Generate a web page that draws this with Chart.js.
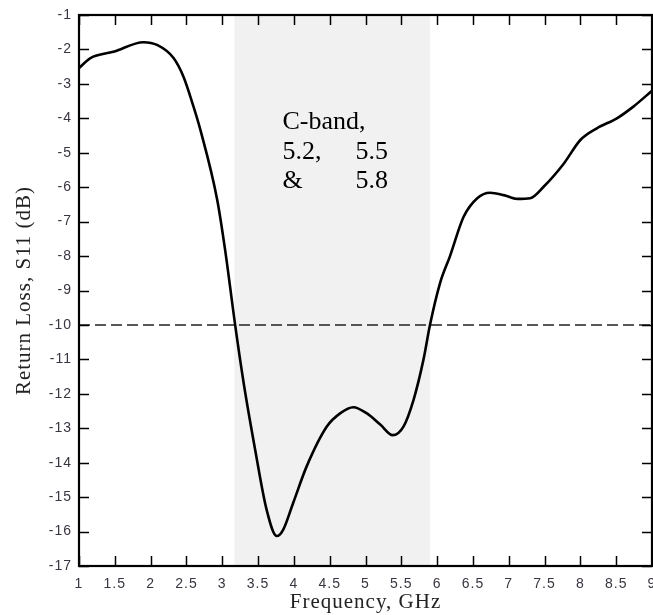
<!DOCTYPE html>
<html><head><meta charset="utf-8">
<script src="https://cdn.jsdelivr.net/npm/chart.js@4/dist/chart.umd.min.js"></script>
<style>html,body{margin:0;padding:0;background:#fff;overflow:hidden}</style>
</head><body>
<canvas id="c" width="653" height="615" style="display:block;width:653px;height:615px"></canvas>
<script>
// ---- data ----
const freqGHz = [1.0, 1.16, 1.48, 1.9, 2.09, 2.32, 2.46, 2.6, 2.69, 2.93, 3.04, 3.18, 3.30, 3.46, 3.62, 3.76, 3.85, 3.99, 4.18, 4.46, 4.65, 4.83, 5.02, 5.21, 5.38, 5.53, 5.67, 5.81, 5.9, 6.04, 6.18, 6.37, 6.56, 6.74, 6.93, 7.12, 7.30, 7.49, 7.77, 8.0, 8.23, 8.51, 8.74, 9.0];
const s11dB = [-2.54, -2.25, -2.07, -1.79, -1.87, -2.25, -2.8, -3.67, -4.3, -6.37, -7.82, -10.0, -11.7, -13.63, -15.37, -16.13, -15.95, -15.17, -14.1, -12.95, -12.56, -12.39, -12.57, -12.9, -13.2, -12.95, -12.18, -11.0, -10.0, -8.79, -8.0, -6.86, -6.32, -6.16, -6.23, -6.34, -6.32, -5.98, -5.31, -4.63, -4.29, -4.0, -3.66, -3.2];
const xTickValues = [1, 1.5, 2, 2.5, 3, 3.5, 4, 4.5, 5, 5.5, 6, 6.5, 7, 7.5, 8, 8.5, 9];
const yTickValues = [-1, -2, -3, -4, -5, -6, -7, -8, -9, -10, -11, -12, -13, -14, -15, -16, -17];
const thresholdDb = [-10, -10];
const thresholdX = [1, 9];
const bandRange = [3.17, 5.9];
const bandLines = [["C-band,"], ["5.2,", "5.5"], ["&", "5.8"]];
const xTitle = "Frequency, GHz";
const yTitle = "Return Loss, S11 (dB)";

const curve = freqGHz.map((f, i) => ({x: f, y: s11dB[i]}));
const threshold = thresholdX.map((f, i) => ({x: f, y: thresholdDb[i]}));

const decor = {
  id: 'decor',
  beforeDraw(chart) { chart.ctx.letterSpacing = '1px'; },
  beforeDatasetsDraw(chart) {
    const {ctx, chartArea: a, scales: {x}} = chart;
    ctx.save();
    ctx.fillStyle = '#f1f1f1';
    const x0 = x.getPixelForValue(bandRange[0]);
    const x1 = x.getPixelForValue(bandRange[1]);
    ctx.fillRect(x0, a.top, x1 - x0, a.bottom - a.top);
    ctx.restore();
  },
  afterDatasetsDraw(chart) {
    const {ctx, chartArea: a, scales: {x, y}} = chart;
    ctx.save();
    ctx.letterSpacing = '0px';
    ctx.strokeStyle = '#000';
    ctx.lineWidth = 1.5;
    ctx.beginPath();
    xTickValues.forEach(v => {
      const px = Math.round(x.getPixelForValue(v)) + 0.5;
      ctx.moveTo(px, a.bottom); ctx.lineTo(px, a.bottom - 10);
      ctx.moveTo(px, a.top); ctx.lineTo(px, a.top + 10);
    });
    yTickValues.forEach(v => {
      const py = Math.round(y.getPixelForValue(v)) + 0.5;
      ctx.moveTo(a.left, py); ctx.lineTo(a.left + 10, py);
      ctx.moveTo(a.right, py); ctx.lineTo(a.right - 10, py);
    });
    ctx.stroke();
    ctx.lineWidth = 2.2;
    ctx.strokeRect(a.left, a.top, a.right - a.left, a.bottom - a.top);
    // annotation
    ctx.fillStyle = '#000';
    ctx.font = '26px "Liberation Serif", "Times New Roman", serif';
    ctx.textBaseline = 'middle';
    ctx.textAlign = 'left';
    const col1 = x.getPixelForValue(3.84), col2 = x.getPixelForValue(4.86);
    const rows = [-4.11, -4.98, -5.82];
    bandLines.forEach((ln, i) => {
      const py = y.getPixelForValue(rows[i]);
      ctx.fillText(ln[0], col1, py);
      if (ln[1]) ctx.fillText(ln[1], col2, py);
    });
    ctx.restore();
  }
};

new Chart(document.getElementById('c'), {
  type: 'line',
  data: {
    datasets: [
      {data: curve, borderColor: '#000', borderWidth: 2.6, pointRadius: 0, cubicInterpolationMode: 'monotone', fill: false},
      {data: threshold, borderColor: '#222', borderWidth: 1.5, borderDash: [11, 5], pointRadius: 0, fill: false}
    ]
  },
  options: {
    responsive: false,
    animation: false,
    devicePixelRatio: 1,
    layout: {padding: {left: 0, right: 1, top: 15, bottom: 0}},
    plugins: {legend: {display: false}, tooltip: {enabled: false}},
    scales: {
      x: {
        type: 'linear', min: 1, max: 9,
        afterBuildTicks: s => { s.ticks = xTickValues.map(v => ({value: v})); },
        ticks: {color: '#3a3540', font: {family: '"Liberation Sans", Arial, sans-serif', size: 14}, padding: 10, maxRotation: 0, autoSkip: false, callback: v => String(v)},
        grid: {display: false, drawTicks: false},
        border: {display: false},
        title: {display: true, text: xTitle, color: '#222', font: {family: '"Liberation Serif", "Times New Roman", serif', size: 21}, padding: {top: 0, bottom: 0}},
        afterFit: s => { s.height = 49; s.paddingLeft = 0; s.paddingRight = 0; }
      },
      y: {
        type: 'linear', min: -17, max: -1,
        afterBuildTicks: s => { s.ticks = yTickValues.map(v => ({value: v})); },
        ticks: {color: '#3a3540', font: {family: '"Liberation Sans", Arial, sans-serif', size: 14}, padding: 7, autoSkip: false, callback: v => String(v)},
        grid: {display: false, drawTicks: false},
        border: {display: false},
        title: {display: true, text: yTitle, color: '#222', font: {family: '"Liberation Serif", "Times New Roman", serif', size: 21}, padding: {top: 12, bottom: 0}},
        afterFit: s => { s.width = 79; s.paddingTop = 0; s.paddingBottom = 0; }
      }
    }
  },
  plugins: [decor]
});
</script>
</body></html>
